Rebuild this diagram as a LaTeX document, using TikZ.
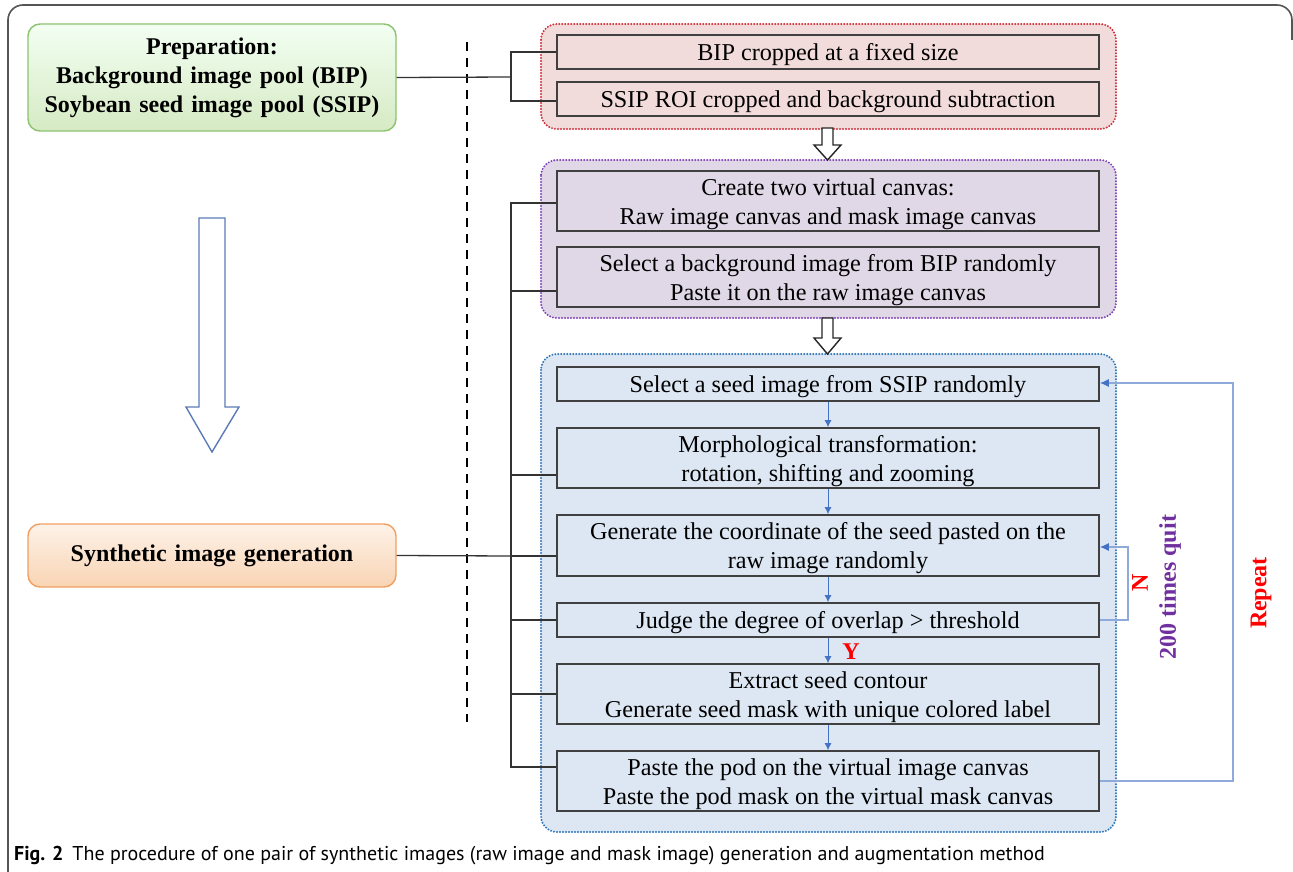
\documentclass[tikz,border=0pt]{standalone}
\usepackage{fontspec}
\setmainfont{Liberation Serif}
\newfontfamily\capfont{PT Sans}
\usetikzlibrary{calc,arrows.meta}
\definecolor{frameg}{HTML}{555555}
\definecolor{pinkf}{HTML}{F2DCDB}
\definecolor{redd}{HTML}{D0303C}
\definecolor{purpf}{HTML}{E0D8E6}
\definecolor{purpd}{HTML}{7F44B8}
\definecolor{bluef}{HTML}{DCE7F3}
\definecolor{blued}{HTML}{2E75B6}
\definecolor{arrb}{HTML}{4472C4}
\definecolor{loopb}{HTML}{8EAADB}
\definecolor{bigarr}{HTML}{5B7CB8}
\definecolor{greenb}{HTML}{8DC26F}
\definecolor{oranb}{HTML}{F0A062}
\definecolor{purptxt}{HTML}{7030A0}
\newcommand\lowtext[1]{\raisebox{-3pt}[\height][\depth]{\parbox{530pt}{\centering\fontsize{24.2}{29}\selectfont #1}}}
\tikzset{
  x=1pt,y=-1pt,
  group/.style={rounded corners=16, line width=2.2pt, dash pattern=on 0pt off 3pt, line cap=round},
  stepbox/.style={draw=black!75, line width=1.6pt, minimum width=542pt, align=center, inner sep=0pt, font=\fontsize{24.2}{29}\selectfont},
  leftbox/.style={rounded corners=12, line width=1.4pt, minimum width=368pt, text width=360pt, align=center, inner sep=0pt, font=\bfseries\fontsize{24}{29}\selectfont},
  tree/.style={draw=black!80, line width=1.3pt},
  sarrow/.style={draw=arrb, line width=1pt, -{Latex[length=7pt,width=7pt]}},
  loop/.style={draw=loopb, line width=1.2pt, -{Latex[length=9pt,width=8pt]}, arrows={[color=arrb]}},
  hollow/.style={draw=black!85, fill=white, line width=1.4pt, line join=miter},
  biglbl/.style={font=\bfseries\fontsize{24}{28}\selectfont, inner sep=0pt},
}
\begin{document}
\begin{tikzpicture}
\useasboundingbox (0,0) rectangle (1293,872);
\fill[white] (0,0) rectangle (1293,872);
% outer frame
\draw[frameg, line width=1.6pt, rounded corners=15] (8,872) -- (8,5) -- (1292,5) -- (1292,40);

% left boxes
\node[leftbox, draw=greenb, top color=green!5!white, bottom color={rgb,255:red,214;green,234;blue,196}, minimum height=107pt] (prep) at (212,77.5)
  {Preparation:\\Background image pool (BIP)\\Soybean seed image pool (SSIP)};
\node[leftbox, draw=oranb, top color={rgb,255:red,253;green,242;blue,232}, bottom color={rgb,255:red,249;green,212;blue,180}, minimum height=63pt] (synth) at (212,555.5)
  {Synthetic image generation};

% big hollow arrow
\draw[bigarr, line width=1.4pt, fill=white, line join=miter] (199,218) -- (225,218) -- (225,407) -- (239,407) -- (212,452) -- (186,407) -- (199,407) -- cycle;

% dashed divider
\draw[black, line width=1.6pt, dash pattern=on 9pt off 7pt] (467,42) -- (467,722);

% groups
\draw[group, draw=redd, fill=pinkf] (541,24) rectangle (1116,129);
\draw[group, draw=purpd, fill=purpf] (541,160) rectangle (1116,318);
\draw[group, draw=blued, fill=bluef] (541,354) rectangle (1116,832);

% red group boxes
\node[stepbox, fill=pinkf, minimum height=34pt] (r1) at (828,52) {\lowtext{BIP cropped at a fixed size}};
\node[stepbox, fill=pinkf, minimum height=34pt] (r2) at (828,99) {\lowtext{SSIP ROI cropped and background subtraction}};

% purple group boxes
\node[stepbox, fill=purpf, minimum height=60pt] (p1) at (828,201) {\lowtext{Create two virtual canvas:\\Raw image canvas and mask image canvas}};
\node[stepbox, fill=purpf, minimum height=60pt] (p2) at (828,277) {\lowtext{Select a background image from BIP randomly\\Paste it on the raw image canvas}};

% blue group boxes
\node[stepbox, fill=bluef, minimum height=34pt] (b1) at (828,384) {\lowtext{Select a seed image from SSIP randomly}};
\node[stepbox, fill=bluef, minimum height=60pt] (b2) at (828,458) {\lowtext{Morphological transformation:\\rotation, shifting and zooming}};
\node[stepbox, fill=bluef, minimum height=61pt] (b3) at (828,545.5) {\lowtext{Generate the coordinate of the seed pasted on the\\raw image randomly}};
\node[stepbox, fill=bluef, minimum height=34pt] (b4) at (828,620) {\lowtext{Judge the degree of overlap > threshold}};
\node[stepbox, fill=bluef, minimum height=60pt] (b5) at (828,694) {\lowtext{Extract seed contour\\Generate seed mask with unique colored label}};
\node[stepbox, fill=bluef, minimum height=60pt] (b6) at (828,781) {\lowtext{Paste the pod on the virtual image canvas\\Paste the pod mask on the virtual mask canvas}};

% hollow arrows between groups
\draw[hollow] (822,128) -- (833,128) -- (833,145) -- (841,145) -- (827.5,160) -- (814,145) -- (822,145) -- cycle;
\draw[hollow] (822,318) -- (833,318) -- (833,338) -- (841,338) -- (827.5,354) -- (814,338) -- (822,338) -- cycle;

% small blue arrows
\draw[sarrow] (b1.south) -- (b2.north);
\draw[sarrow] (b2.south) -- (b3.north);
\draw[sarrow] (b3.south) -- (b4.north);
\draw[sarrow] (b4.south) -- (b5.north);
\draw[sarrow] (b5.south) -- (b6.north);
\node[biglbl, text=red] (ylbl) at (851,652) {Y};

% tree from preparation
\coordinate (tj) at (511,77);
\draw[tree] (prep.east) -- (tj);
\draw[tree] (r1.west) -| (511,52) -- (511,101) -- ($(r2.west)+(0,2)$);

% tree from synthetic image generation
\coordinate (sj) at (511,556);
\draw[tree] (synth.east) -- (sj);
\draw[tree] ($(p1.west)+(0,2)$) -- (511,203) -- (511,767) -- ($(b6.west)+(0,-14)$);
\draw[tree] ($(p2.west)+(0,14)$) -- (511,291);
\draw[tree] ($(b2.west)+(0,17)$) -- (511,475);
\draw[tree] ($(b3.west)+(0,10.5)$) -- (511,556);
\draw[tree] (b4.west) -- (511,620);
\draw[tree] (b5.west) -- (511,694);

% feedback loops
\draw[loop] (b4.east) -- (1128,620) -- (1128,547) -- ($(b3.east)+(0,1.5)$);
\draw[loop] (b6.east) -- (1233,781) -- (1233,383) -- ($(b1.east)+(0,-1)$);
\node[biglbl, text=red, rotate=90] (nlbl) at (1140,583) {N};
\node[biglbl, text=purptxt, rotate=90] (quit) at (1170,587) {200 times quit};
\node[biglbl, text=red, rotate=90] (rep) at (1261,593) {Repeat};

% caption
\node[anchor=west, inner sep=0pt, font=\capfont\fontsize{20}{23}\selectfont] (cap) at (14,856)
  {\textbf{Fig. 2}\hspace{9pt}The procedure of one pair of synthetic images (raw image and mask image) generation and augmentation method};
\end{tikzpicture}
\end{document}
